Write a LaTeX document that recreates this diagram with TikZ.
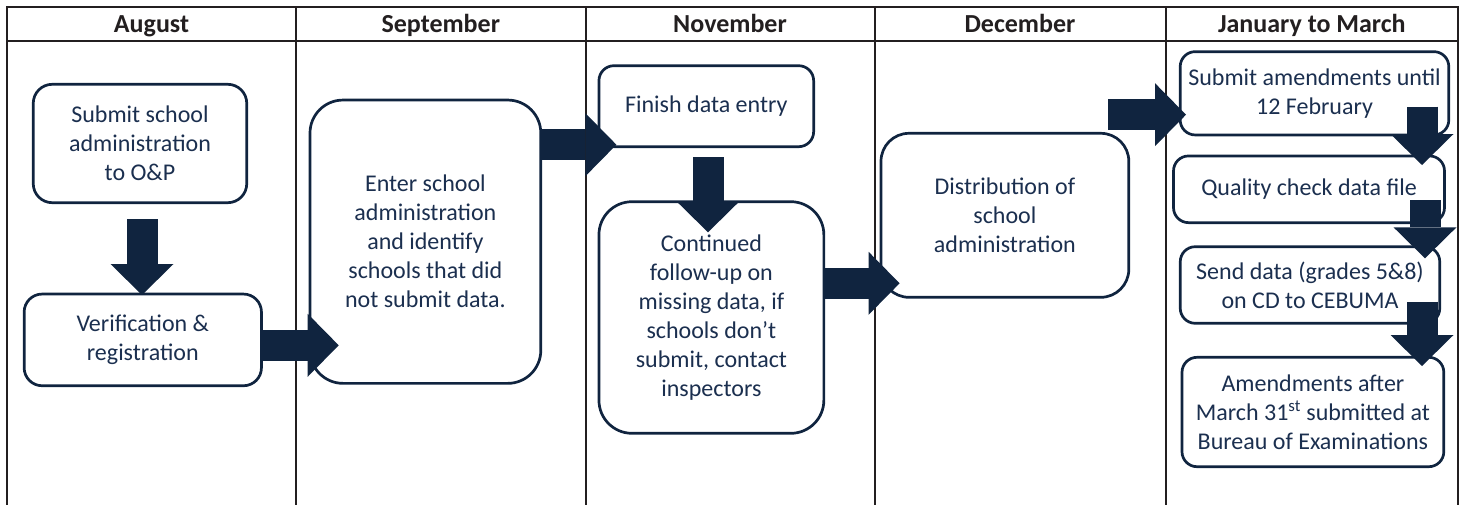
\documentclass[tikz,border=0pt]{standalone}
\usepackage{fontspec}
\setmainfont{Carlito}
\usetikzlibrary{arrows.meta}
\definecolor{navy}{HTML}{10243F}
\definecolor{boxtext}{HTML}{1B2F4F}
\definecolor{rulecol}{HTML}{231F20}
\begin{document}
\begin{tikzpicture}[x=1pt,y=-1pt,
  grid/.style={draw=rulecol, line width=2pt, line cap=rect},
  month/.style={font=\fontsize{26}{30}\selectfont\bfseries, text=rulecol, inner sep=0pt, anchor=base},
  task/.style={draw=navy, line width=2.7pt, fill=white, text=boxtext, align=center,
    inner sep=0pt, font=\fontsize{24}{29}\selectfont, rounded corners=#1},
  task/.default=15pt,
  blockarrow/.style={draw=navy, line width=31pt, line cap=butt,
    -{Triangle[line width=0pt, width=63pt, length=31pt, fill=navy]}}]
\useasboundingbox (0,0) rectangle (1460,504);

% table frame: header row and five month columns
\draw[grid] (7,7.3) -- (1458,7.3);
\draw[grid] (7,40.7) -- (1458,40.7);
\foreach \x in {7,296,585.5,874.5,1165.5,1458}
  \draw[grid] (\x,7.3) -- (\x,506);

% column headings, all on one baseline
\node[month] (hAug) at (151.5,32.5) {August};
\node[month] (hSep) at (440.8,32.5) {September};
\node[month] (hNov) at (730,32.5) {November};
\node[month] (hDec) at (1020,32.5) {December};
\node[month] (hJan) at (1311.8,32.5) {January to March};

% process steps
\node[task=19pt, minimum width=213.5pt, minimum height=118.4pt] (submit) at (140,143.5)
  {Submit school\\administration\\to O\&P};
\node[task=18pt, minimum width=237.3pt, minimum height=91.7pt] (verif) at (142.8,339.9)
  {Verification \&\\registration};
\node[task=33pt, minimum width=230.8pt, minimum height=283.3pt] (enter) at (425.4,241.7)
  {Enter school\\administration\\and identify\\schools that did\\not submit data.};
\node[task=15pt, minimum width=214.7pt, minimum height=81pt] (finish) at (706.3,106.2)
  {Finish data entry};
\node[task=33pt, minimum width=224.9pt, minimum height=231.6pt] (cont) at (711.4,317.5)
  {Continued\\follow-up on\\missing data, if\\schools don’t\\submit, contact\\inspectors};
\node[task=28pt, minimum width=247.8pt, minimum height=164pt] (dist) at (1004.9,215.3)
  {Distribution of\\school\\administration};
\node[task=15pt, minimum width=268.6pt, minimum height=83.3pt] (amend) at (1314.5,93.3)
  {Submit amendments until\\12 February};
\node[task=15pt, minimum width=271pt, minimum height=66.7pt] (quality) at (1309,189.3)
  {Quality check data file};
\node[task=15pt, minimum width=259.5pt, minimum height=76.6pt] (send) at (1310,285)
  {Send data (grades 5\&8)\\on CD to CEBUMA};
\node[task=15pt, minimum width=261.8pt, minimum height=109.4pt] (bureau) at (1312.9,412)
  {Amendments after\\March 31\textsuperscript{st} submitted at\\Bureau of Examinations};

% arrow ends
\coordinate (a1s) at (142,219.3);   \coordinate (a1e) at (142,295);
\coordinate (a2s) at (261.4,345.3); \coordinate (a2e) at (338.7,345.3);
\coordinate (a3s) at (540.8,144.7); \coordinate (a3e) at (616.4,144.7);
\coordinate (a4s) at (708,157.3);   \coordinate (a4e) at (708,232.3);
\coordinate (a5s) at (823.8,283.3); \coordinate (a5e) at (899.6,283.3);
\coordinate (a6s) at (1108.4,114.7);\coordinate (a6e) at (1186,114.7);
\coordinate (a7s) at (1422,106.7);  \coordinate (a7e) at (1422,165);
\coordinate (a8s) at (1425,200);    \coordinate (a8e) at (1425,258.3);
\coordinate (a9s) at (1422,301.7);  \coordinate (a9e) at (1422,366);

% block arrows between the steps
\draw[blockarrow] (a1s) -- (a1e);
\draw[blockarrow] (a2s) -- (a2e);
\draw[blockarrow] (a3s) -- (a3e);
\draw[blockarrow] (a4s) -- (a4e);
\draw[blockarrow] (a5s) -- (a5e);
\draw[blockarrow] (a6s) -- (a6e);
\draw[blockarrow] (a7s) -- (a7e);
\draw[blockarrow] (a8s) -- (a8e);
\draw[blockarrow] (a9s) -- (a9e);
\end{tikzpicture}
\end{document}
